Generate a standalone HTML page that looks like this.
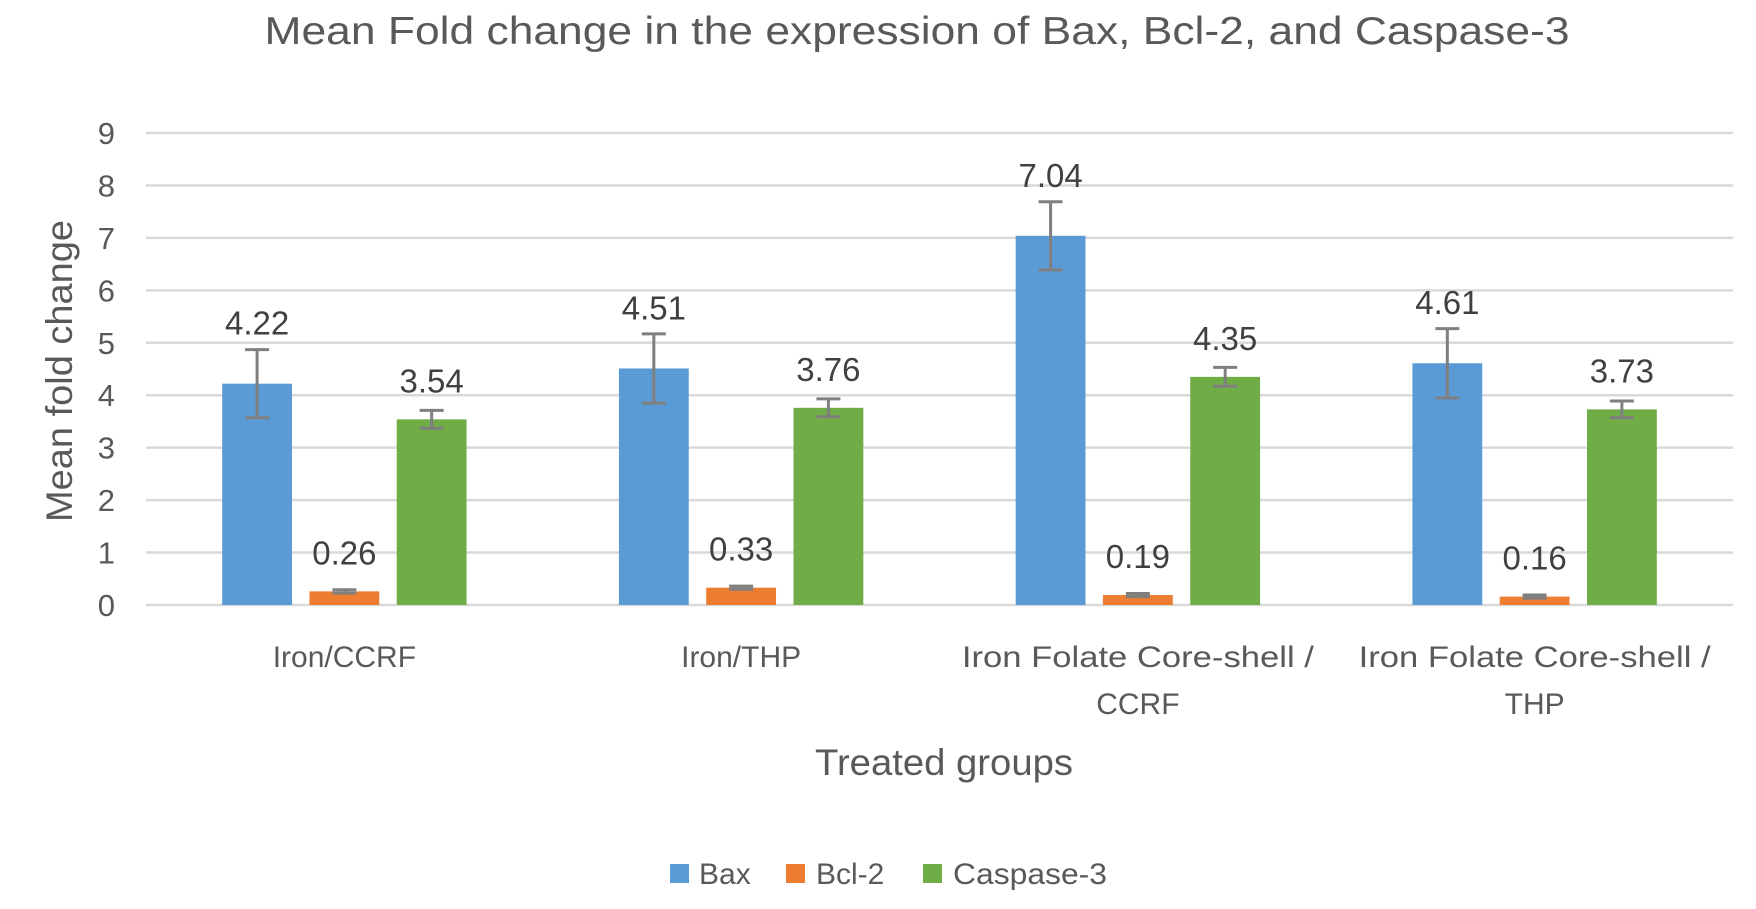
<!DOCTYPE html>
<html><head><meta charset="utf-8"><style>
html,body{margin:0;padding:0;background:#fff;}
svg{display:block;font-family:"Liberation Sans",sans-serif;}
</style></head><body>
<svg id="chart" width="1756" height="909" viewBox="0 0 1756 909">
<text x="917" y="44" text-anchor="middle" font-size="39" fill="#595959" textLength="1305" lengthAdjust="spacingAndGlyphs">Mean Fold change in the expression of Bax, Bcl-2, and Caspase-3</text>
<g id="grid"></g><g id="bars"></g><g id="labels"></g>
<text transform="translate(72,371) rotate(-90)" text-anchor="middle" font-size="37" fill="#595959" textLength="302" lengthAdjust="spacingAndGlyphs">Mean fold change</text>
<text x="944" y="775" text-anchor="middle" font-size="37" fill="#595959" textLength="258" lengthAdjust="spacingAndGlyphs">Treated groups</text>
<g>
<rect x="670" y="864" width="19" height="19" fill="#5B9BD5"/>
<text x="699" y="884" font-size="30" fill="#595959">Bax</text>
<rect x="786" y="864" width="19" height="19" fill="#ED7D31"/>
<text x="816" y="884" font-size="30" fill="#595959">Bcl-2</text>
<rect x="923" y="864" width="19" height="19" fill="#70AD47"/>
<text x="953" y="884" font-size="30" fill="#595959" textLength="154" lengthAdjust="spacingAndGlyphs">Caspase-3</text>
</g>
</svg>
<script>
const categories=[["Iron/CCRF"],["Iron/THP"],["Iron Folate Core-shell /","CCRF"],["Iron Folate Core-shell /","THP"]];
const seriesNames=["Bax","Bcl-2","Caspase-3"];
const baxValues=[4.22,4.51,7.04,4.61];
const bcl2Values=[0.26,0.33,0.19,0.16];
const caspase3Values=[3.54,3.76,4.35,3.73];
const baxErrors=[0.65,0.66,0.65,0.66];
const bcl2Errors=[0.03,0.03,0.03,0.03];
const caspase3Errors=[0.17,0.17,0.18,0.16];
const yTicks=[0,1,2,3,4,5,6,7,8,9];

const NS="http://www.w3.org/2000/svg";
const L=146,R=1733,Y0=605,Y9=133,YMAX=9;
const colors=["#5B9BD5","#ED7D31","#70AD47"];
const labelOffsets=[62,40,40];
const yS=v=>Y0-(Y0-Y9)*v/YMAX;
const gw=(R-L)/categories.length;
const bw=gw*0.176, step=gw*0.22;
const xS=(ci,si)=>L+gw*(ci+0.5)+(si-1)*step;
function mk(tag,attrs,parent){const e=document.createElementNS(NS,tag);for(const k in attrs)e.setAttribute(k,attrs[k]);parent.appendChild(e);return e;}
const grid=document.getElementById('grid'),bars=document.getElementById('bars'),labels=document.getElementById('labels');
yTicks.forEach(t=>{
  const ln=mk('line',{x1:L,x2:R,y1:yS(t),y2:yS(t),stroke:'#d9d9d9','stroke-width':2.5},grid);
  
  
  const tx=mk('text',{x:115,y:yS(t)+11,'text-anchor':'end','font-size':31,fill:'#595959'},grid);
  tx.textContent=t;
  
  
});
const vals=[baxValues,bcl2Values,caspase3Values],errs=[baxErrors,bcl2Errors,caspase3Errors];
categories.forEach((cat,ci)=>{
  vals.forEach((arr,si)=>{
    const v=arr[ci],cx=xS(ci,si),e=errs[si][ci];
    const r=mk('rect',{x:cx-bw/2,y:yS(v),width:bw,height:Y0-yS(v),fill:colors[si]},bars);
    
    
    const g=mk('g',{stroke:'#7f7f7f','stroke-width':3},bars);
    
    
    mk('line',{x1:cx,x2:cx,y1:yS(v+e),y2:yS(v-e)},g);
    mk('line',{x1:cx-12,x2:cx+12,y1:yS(v+e),y2:yS(v+e)},g);
    mk('line',{x1:cx-12,x2:cx+12,y1:yS(v-e),y2:yS(v-e)},g);
    const t=mk('text',{x:cx,y:yS(v)-labelOffsets[si]+13,'text-anchor':'middle','font-size':33,fill:'#404040'},labels);
    t.textContent=v.toFixed(2);
    
    
  });
  cat.forEach((line,li)=>{
    const attrs={x:L+gw*(ci+0.5),y:667+li*47,'text-anchor':'middle','font-size':30,fill:'#595959'};
    if(line.length>20){attrs.textLength=352;attrs.lengthAdjust='spacingAndGlyphs';}
    const t=mk('text',attrs,labels);
    t.textContent=line;
    
    
  });
});
</script>
</body></html>
